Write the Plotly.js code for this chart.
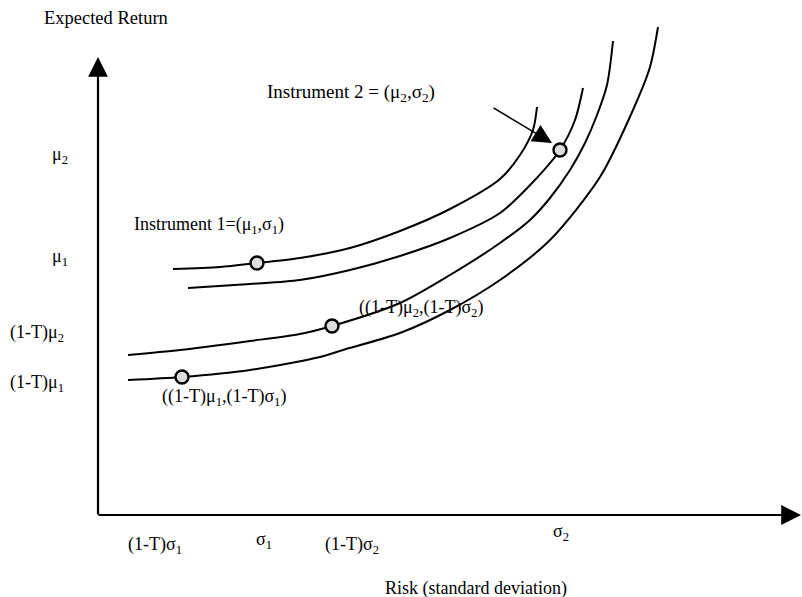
<!DOCTYPE html>
<html>
<head>
<meta charset="utf-8">
<script src="https://cdn.plot.ly/plotly-3.0.1.min.js"></script>
<style>html,body{margin:0;padding:0;background:#fff;}#chart{width:802px;height:597px;}</style>
</head>
<body>
<div id="chart"></div>
<script>
// Values in arbitrary diagram units (risk on x, expected return on y), origin at the axes' corner.
var curve1X = [75, 122, 159, 202, 252, 302, 352, 402, 422, 435, 439];
var curve1Y = [246, 248, 252, 257, 267, 284, 306, 336, 360, 385, 408];
var curve2X = [90, 152, 202, 252, 302, 352, 402, 435, 462, 477, 485];
var curve2Y = [227, 231, 235, 245, 259, 277, 302, 333, 365, 395, 427];
var curve3X = [30, 82, 152, 202, 234, 302, 352, 402, 432, 452, 472, 487, 499, 509, 515];
var curve3Y = [160, 165, 174, 181, 189, 212, 240, 272, 295, 317, 345, 372, 400, 430, 474];
var curve4X = [30, 84, 152, 222, 245, 302, 352, 402, 452, 502, 535, 552, 560];
var curve4Y = [135, 138, 145, 158, 165, 182, 205, 235, 275, 338, 405, 448, 488];

var pointNames = ["Instrument 1", "Instrument 2", "(1-T) Instrument 2", "(1-T) Instrument 1"];
var pointX = [159, 462, 234, 84];
var pointY = [252, 365, 189, 138];

var yTickText = ["μ<sub>2</sub>", "μ<sub>1</sub>", "(1-T)μ<sub>2</sub>", "(1-T)μ<sub>1</sub>"];
var yTickPos = [360, 258, 182, 132];
var xTickText = ["(1-T)σ<sub>1</sub>", "σ<sub>1</sub>", "(1-T)σ<sub>2</sub>", "σ<sub>2</sub>"];
var xTickPos = [57, 166, 254, 463];

var pointLabels = ["Instrument 1=(μ<sub>1</sub>,σ<sub>1</sub>)", "Instrument 2 = (μ<sub>2</sub>,σ<sub>2</sub>)",
                   "((1-T)μ<sub>2</sub>,(1-T)σ<sub>2</sub>)", "((1-T)μ<sub>1</sub>,(1-T)σ<sub>1</sub>)"];
var pointLabelX = [34, 167, 259, 62];
var pointLabelY = [290, 422, 207, 118];
var pointLabelSize = [18, 19, 18, 18];

var yTitle = "Expected Return";
var xTitle = "Risk (standard deviation)";

var FONT = "Liberation Serif, Times New Roman, serif";
var lineStyle = {color: "#000", width: 2, shape: "spline", smoothing: 0.8};

var traces = [
  {x: curve1X, y: curve1Y, mode: "lines", line: lineStyle, hoverinfo: "skip"},
  {x: curve2X, y: curve2Y, mode: "lines", line: lineStyle, hoverinfo: "skip"},
  {x: curve3X, y: curve3Y, mode: "lines", line: lineStyle, hoverinfo: "skip"},
  {x: curve4X, y: curve4Y, mode: "lines", line: lineStyle, hoverinfo: "skip"},
  {x: pointX, y: pointY, text: pointNames, mode: "markers",
   marker: {symbol: "circle", size: 13, color: "#dcdcdc", line: {color: "#000", width: 2.4}}}
];

var ann = [];
function txt(t, x, y, xa, size) {
  ann.push({text: t, x: x, y: y, xref: "x", yref: "y", xanchor: xa, yanchor: "middle",
            showarrow: false, font: {family: FONT, size: size || 18, color: "#000"}});
}
for (var i = 0; i < yTickText.length; i++) {
  var left = yTickText[i].indexOf("(1-T)") === 0;
  txt(yTickText[i], left ? -90 : -28, yTickPos[i], left ? "left" : "right");
}
var xTickY = [-30, -25, -30, -17];
for (var j = 0; j < xTickText.length; j++) txt(xTickText[j], xTickPos[j], xTickY[j], "center");
for (var k = 0; k < pointLabels.length; k++) txt(pointLabels[k], pointLabelX[k], pointLabelY[k], "left", pointLabelSize[k]);
txt(yTitle, 8, 497, "center", 18.5);
txt(xTitle, 378, -73, "center", 18);

// axis arrows
ann.push({x: 0, y: 458, ax: 0, ay: -1, xref: "x", yref: "y", axref: "x", ayref: "y", text: "",
          showarrow: true, arrowhead: 2, arrowsize: 1.8, arrowwidth: 2.2, arrowcolor: "#000", standoff: 0});
ann.push({x: 703, y: 0, ax: -1, ay: 0, xref: "x", yref: "y", axref: "x", ayref: "y", text: "",
          showarrow: true, arrowhead: 2, arrowsize: 1.8, arrowwidth: 2.2, arrowcolor: "#000", standoff: 0});
// pointer to instrument 2
ann.push({x: 454, y: 372, ax: 394, ay: 408, xref: "x", yref: "y", axref: "x", ayref: "y", text: "",
          showarrow: true, arrowhead: 2, arrowsize: 2.4, arrowwidth: 1.6, arrowcolor: "#000", standoff: 0});

var layout = {
  width: 802, height: 597,
  margin: {l: 0, r: 0, t: 0, b: 0},
  paper_bgcolor: "#fff", plot_bgcolor: "#fff",
  showlegend: false,
  xaxis: {range: [-98, 704], visible: false, fixedrange: true},
  yaxis: {range: [-82, 515], visible: false, fixedrange: true},
  annotations: ann
};
Plotly.newPlot("chart", traces, layout, {displayModeBar: false, staticPlot: true});
</script>
</body>
</html>
